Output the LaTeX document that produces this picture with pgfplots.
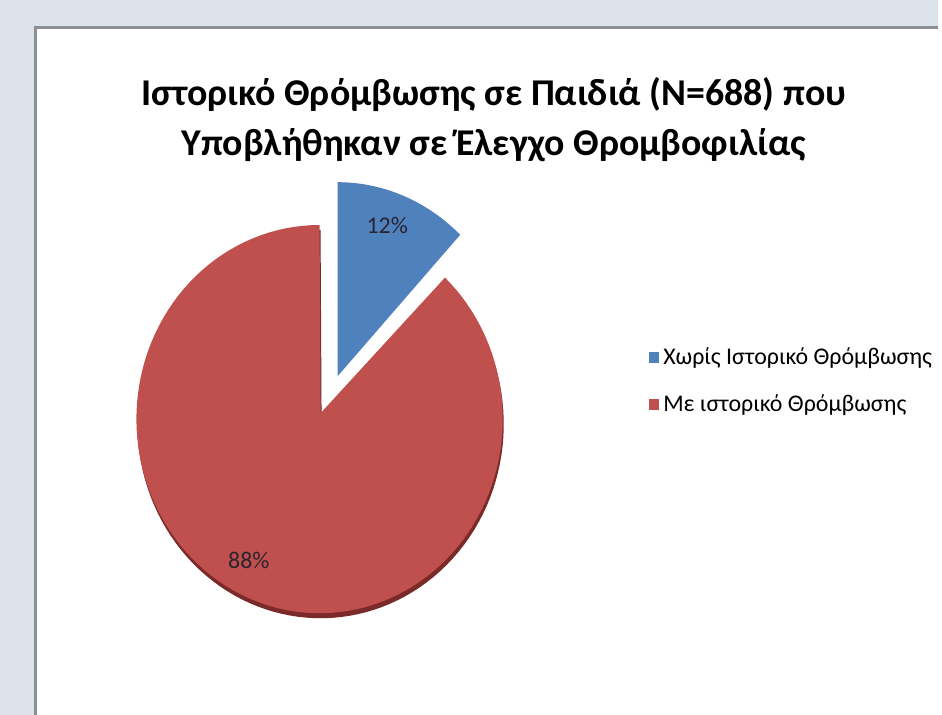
\documentclass[border=0pt]{standalone}
\usepackage{pgfplots}
\pgfplotsset{compat=1.18}
\usepackage{fontspec}
\setmainfont{Carlito}
\definecolor{pieblue}{HTML}{4F81BD}
\definecolor{piered}{HTML}{C0504D}
\definecolor{rimred}{HTML}{7A2A28}
\definecolor{bgcol}{HTML}{DCE2E9}
\definecolor{bordercol}{HTML}{8C9096}
\definecolor{labcol}{HTML}{2A2430}
% data (percent)
\def\valA{12}
\def\valB{88}
\pgfmathsetmacro{\angA}{90-3.6*\valA}
\pgfmathsetmacro{\angB}{\angA-3.6*\valB}
\begin{document}
\begin{tikzpicture}
\begin{axis}[
  scale only axis, width=471pt, height=359pt,
  xmin=0, xmax=942, ymin=0, ymax=718,
  axis lines=none, ticks=none,
  legend style={at={(axis cs:645,335.5)}, anchor=west, draw=none, fill=none,
    font=\fontsize{12pt}{14pt}\selectfont, row sep=9.5pt,
    /tikz/every odd column/.append style={column sep=0pt},
    /tikz/every even column/.append style={inner xsep=1.5pt}},
  legend cell align=left,
]
% background and panel
\fill[bgcol] (axis cs:0,0) rectangle (axis cs:942,718);
\fill[bordercol] (axis cs:34,-10) rectangle (axis cs:960,692);
\fill[white] (axis cs:37,-10) rectangle (axis cs:960,689);
% title
\node[font=\bfseries\fontsize{19pt}{25pt}\selectfont, align=center, anchor=center]
  at (axis cs:496,598) {Ιστορικό Θρόμβωσης σε Παιδιά (N=688) που\\Υποβλήθηκαν σε Έλεγχο Θρομβοφιλίας};
% rim of the red slice
\addplot[fill=rimred, draw=none, domain=\angB:\angA, samples=120, variable=\t, forget plot]
  ({322+184*cos(t)}, {292+195*sin(t)}) -- (axis cs:323,298) -- cycle;
% blue slice (exploded)
\addplot[fill=pieblue, draw=none, domain=\angA:90, samples=60, variable=\t,
  legend image code/.code={\fill[pieblue] (0pt,-2.7pt) rectangle (5.4pt,2.7pt);}]
  ({339+180*cos(t)}, {340+195*sin(t)}) -- (axis cs:339,340) -- cycle;
\addlegendentry{Χωρίς Ιστορικό Θρόμβωσης}
% red slice
\addplot[fill=piered, draw=none, domain=\angB:\angA, samples=120, variable=\t,
  legend image code/.code={\fill[piered] (0pt,-2.7pt) rectangle (5.4pt,2.7pt);}]
  ({321+184*cos(t)}, {297+195*sin(t)}) -- (axis cs:322,303) -- cycle;
\addlegendentry{Με ιστορικό Θρόμβωσης}
% data labels
\node[text=labcol, font=\fontsize{12pt}{14pt}\selectfont] at (axis cs:389,492) {\valA\%};
\node[text=labcol, font=\fontsize{12pt}{14pt}\selectfont] at (axis cs:250,155) {\valB\%};
\end{axis}
\end{tikzpicture}
\end{document}
